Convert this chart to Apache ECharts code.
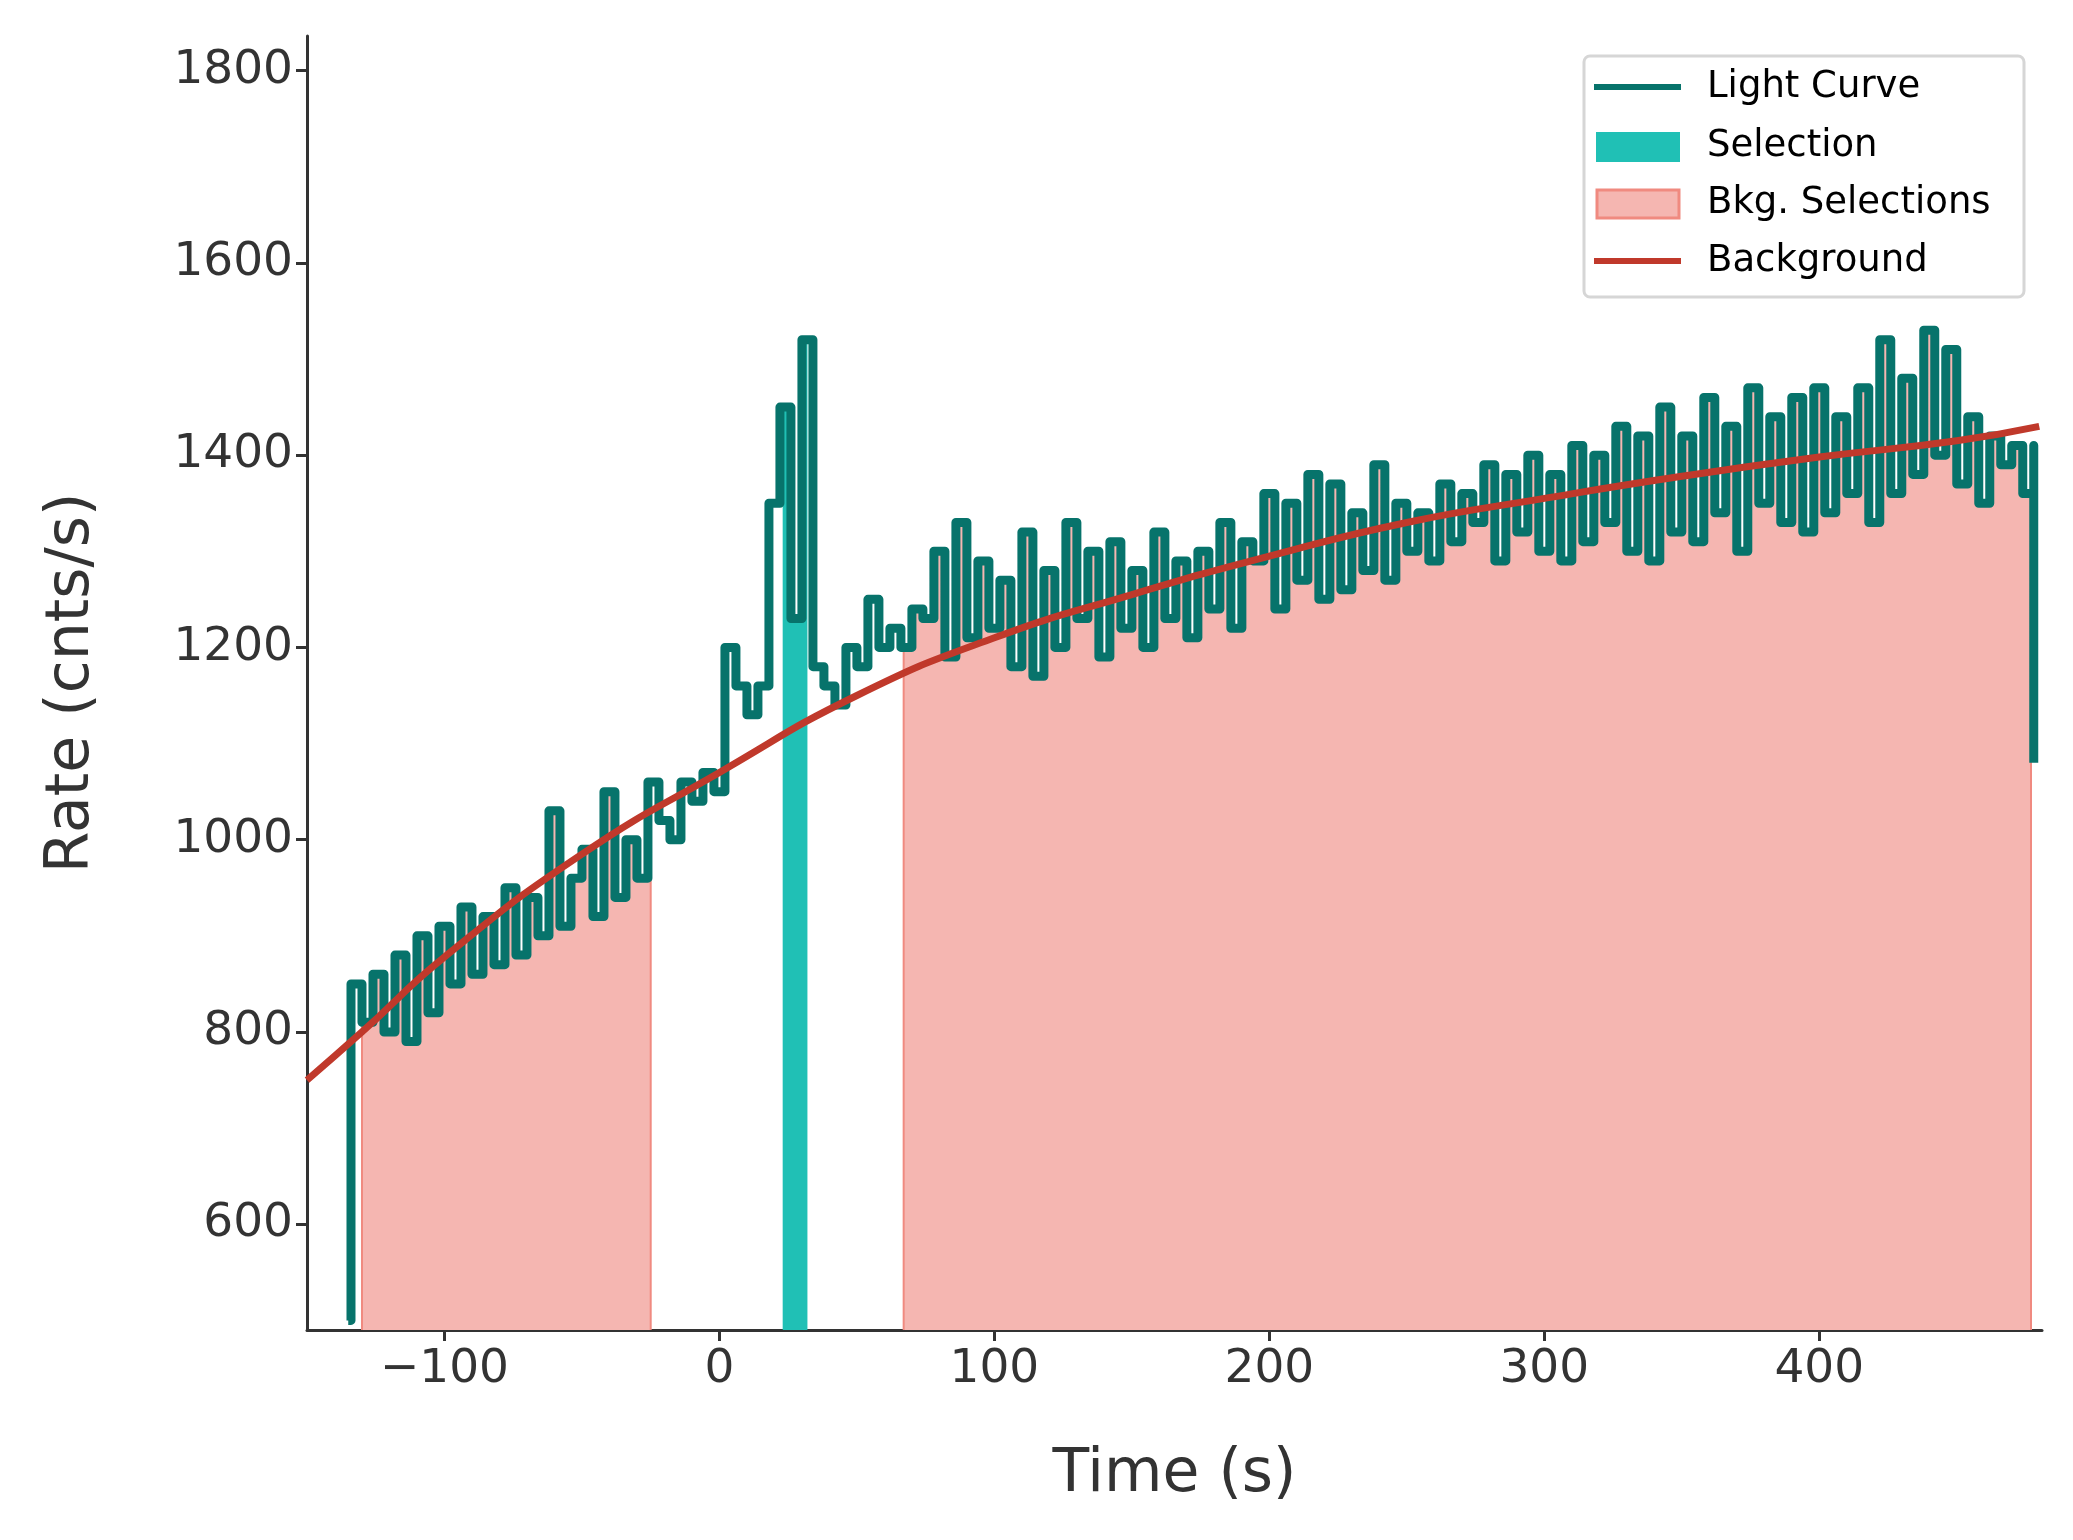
<!DOCTYPE html>
<html><head><meta charset="utf-8">
<script src="https://cdn.jsdelivr.net/npm/echarts@6/dist/echarts.min.js"></script>
<style>html,body{margin:0;padding:0;background:#fff}#c{width:2073px;height:1540px}</style>
</head><body><div id="c"></div>
<script>
const binStart = -134, binWidth = 4;
const rate = [850,810,860,800,880,790,900,820,910,850,930,860,920,870,950,880,940,900,1030,910,960,990,920,1050,940,1000,960,
1060,1020,1000,1060,1040,1070,1050,1200,1160,1130,1160,1350,1450,1230,1520,1180,1160,1140,1200,1180,1250,1200,1220,1200,1240,
1230,1300,1190,1330,1210,1290,1220,1270,1180,1320,1170,1280,1200,1330,1230,1300,1190,1310,1220,1280,1200,1320,1230,1290,1210,1300,1240,1330,1220,1310,
1290,1360,1240,1350,1270,1380,1250,1370,1260,1340,
1280,1390,1270,1350,1300,1340,1290,1370,1310,1360,
1330,1390,1290,1380,1320,1400,1300,1380,1290,1410,
1310,1400,1330,1430,1300,1420,1290,1450,1320,1420,
1310,1460,1340,1430,1300,1470,1350,1440,1330,1460,
1320,1470,1340,1440,1360,1470,1330,1520,1360,1480,
1380,1530,1400,1510,1370,1440,1350,1420,1390,1410,
1360,1410];
const bgT = [-150,-130,-100,-50,0,50,100,150,200,250,300,350,400,450,480];
const bgV = [750,800,878,985,1070,1150,1210,1255,1295,1330,1355,1378,1398,1415,1430];
const bkgRanges = [[-130,-25],[67,477]];
const selRange = [23,32];
const yTicks = [600,800,1000,1200,1400,1600,1800];
const xTicks = [-100,0,100,200,300,400];

const lc = [[-135,500]];
rate.forEach((v,i)=>lc.push([binStart+i*binWidth, v]));
lc.push([478,1080]);
function valAt(t){ let v=rate[0]; rate.forEach((r,i)=>{ if(binStart+i*binWidth<=t) v=r; }); return v; }
function sub(a,b){ const out=[[a,valAt(a)]]; rate.forEach((r,i)=>{const t=binStart+i*binWidth; if(t>a&&t<b) out.push([t,r]);}); out.push([b,valAt(b)]); return out; }
const font='DejaVu Sans', col='#333';
const series=[];
bkgRanges.forEach(([a,b])=>{
  const d=sub(a,b);
  series.push({type:'line',step:'end',data:d,symbol:'none',z:1,
    lineStyle:{width:0},areaStyle:{color:'#f5b6b1',opacity:1,origin:'start'}});
  [a,b].forEach(x=>series.push({type:'line',data:[[x,490],[x,valAt(x)]],symbol:'none',z:2,lineStyle:{width:2,color:'#f08a80'}}));
});
series.push({type:'line',step:'end',data:sub(selRange[0],selRange[1]),symbol:'none',z:1,
  lineStyle:{width:0},areaStyle:{color:'#20c0b5',opacity:1,origin:'start'}});
series.push({type:'line',step:'end',data:lc,symbol:'none',z:3,lineStyle:{width:9,color:'#07736b',join:'round'}});
series.push({type:'line',smooth:true,data:bgT.map((t,i)=>[t,bgV[i]]),symbol:'none',z:4,lineStyle:{width:7,color:'#c0392b'}});

const ch=echarts.init(document.getElementById('c'));
const axLine={onZero:false,lineStyle:{color:col,width:3}};
ch.setOption({
  animation:false,
  grid:{left:307,right:31,top:36,bottom:210},
  xAxis:{type:'value',min:-150,max:481,axisLine:axLine,splitLine:{show:false},
    axisTick:{customValues:xTicks,length:11,lineStyle:{color:col,width:3}},
    axisLabel:{customValues:xTicks,fontFamily:font,fontSize:47,color:col,margin:16,formatter:v=>String(v).replace('-','\u2212')},
    name:'Time (s)',nameLocation:'middle',nameGap:115,nameTextStyle:{fontFamily:font,fontSize:60,color:col}},
  yAxis:{type:'value',min:490,max:1836,axisLine:axLine,splitLine:{show:false},
    axisTick:{customValues:yTicks,length:11,lineStyle:{color:col,width:3}},
    axisLabel:{customValues:yTicks,fontFamily:font,fontSize:47,color:col,margin:14,formatter:v=>String(v)},
    name:'Rate (cnts/s)',nameLocation:'middle',nameGap:205,nameTextStyle:{fontFamily:font,fontSize:60,color:col}},
  series,
  graphic:[
    {type:'rect',shape:{x:1584,y:56,width:440,height:241,r:6},style:{fill:'rgba(255,255,255,0.85)',stroke:'#d6d6d6',lineWidth:3},z:10},
    {type:'rect',shape:{x:1594,y:84,width:87,height:6},style:{fill:'#07736b'},z:11},
    {type:'rect',shape:{x:1596,y:132,width:84,height:30},style:{fill:'#20c0b5'},z:11},
    {type:'rect',shape:{x:1597,y:190,width:82,height:28},style:{fill:'#f5b6b1',stroke:'#f08a80',lineWidth:3},z:11},
    {type:'rect',shape:{x:1594,y:258,width:87,height:6},style:{fill:'#c0392b'},z:11},
    ...['Light Curve','Selection','Bkg. Selections','Background'].map((t,i)=>({type:'text',x:1707,y:[87,146,203,261][i],z:11,
      style:{text:t,fontFamily:font,fontSize:37,fill:'#000',verticalAlign:'middle'}}))
  ]
});
</script></body></html>
